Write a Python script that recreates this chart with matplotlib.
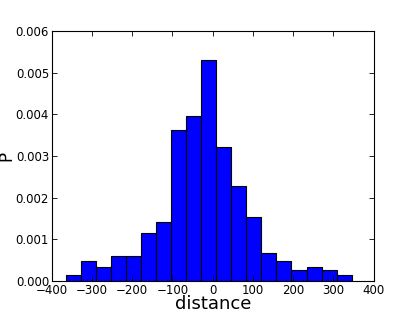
import matplotlib
matplotlib.use("Agg")
import matplotlib.pyplot as plt
import numpy as np

bin_left = -365.0
bin_width = 37.4
densities = [0.000136, 0.00048, 0.000336, 0.0006, 0.0006, 0.00114, 0.00141,
             0.00363, 0.00395, 0.0053, 0.00322, 0.00228, 0.00154, 0.00068,
             0.00048, 0.00027, 0.000336, 0.00027, 0.000136]
xticks = [-400, -300, -200, -100, 0, 100, 200, 300, 400]
yticks = [0.000, 0.001, 0.002, 0.003, 0.004, 0.005, 0.006]

edges = bin_left + bin_width * np.arange(len(densities) + 1)
centers = (edges[:-1] + edges[1:]) / 2

fig = plt.figure(figsize=(4.15, 3.12), dpi=100)
ax = fig.add_axes([0.125, 0.1, 0.775, 0.8])
ax.hist(centers, bins=edges, weights=densities, color='#0000ff',
        edgecolor='black', linewidth=0.8)
ax.set_xlim(-400, 400)
ax.set_ylim(0, 0.006)
ax.set_xticks(xticks)
ax.set_yticks(yticks)
ax.set_yticklabels([f"{v:.3f}" for v in yticks])
ax.set_xticklabels([str(v).replace('-', '\u2212') for v in xticks])
ax.tick_params(direction='in', top=True, right=True, labelsize=8.5, length=3.5, width=0.6, pad=2)
for s in ax.spines.values():
    s.set_linewidth(0.8)
ax.set_xlabel("distance", fontsize=13, labelpad=-1)
ax.set_ylabel("P", fontsize=12)
ax.yaxis.set_label_coords(-0.115, 0.5)
fig.savefig("out.png", dpi=100)
